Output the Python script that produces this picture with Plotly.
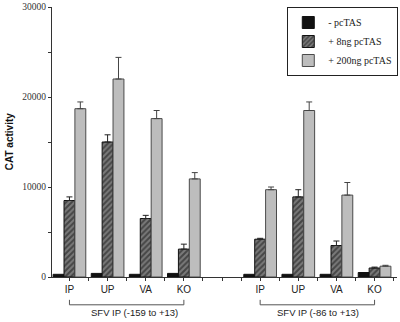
import plotly.graph_objects as go

positions = [1, 2, 3, 4, 6, 7, 8, 9]
categories = ["IP", "UP", "VA", "KO", "IP", "UP", "VA", "KO"]

series_names = ["- pcTAS", "+ 8ng pcTAS", "+ 200ng pcTAS"]
no_tas = [300, 400, 300, 400, 300, 300, 300, 500]
tas_8ng = [8500, 15000, 6500, 3100, 4200, 8900, 3500, 1000]
tas_8ng_err = [400, 800, 350, 550, 100, 800, 500, 100]
tas_200ng = [18700, 22000, 17600, 10900, 9700, 18500, 9100, 1200]
tas_200ng_err = [750, 2400, 900, 700, 300, 950, 1400, 100]

group_labels = ["SFV IP (-159 to +13)", "SFV IP (-86 to +13)"]
group_spans = [(1, 4), (6, 9)]
group_label_x = [2.70, 7.51]

y_tickvals = [0, 5000, 10000, 15000, 20000, 25000, 30000]
y_ticktext = ["0", "", "10000", "", "20000", "", "30000"]

fig = go.Figure()
fig.add_trace(go.Bar(
    x=positions, y=no_tas, name=series_names[0],
    marker=dict(color="#111111", line=dict(color="#111111", width=1)),
))
fig.add_trace(go.Bar(
    x=positions, y=tas_8ng, name=series_names[1],
    marker=dict(color="#333333", line=dict(color="#111111", width=1),
                pattern=dict(shape="/", fgcolor="#111111", bgcolor="#7a7a7a",
                             size=4, solidity=0.5)),
    error_y=dict(type="data", symmetric=False, array=tas_8ng_err,
                 arrayminus=[0] * len(tas_8ng_err), color="#222222",
                 thickness=1, width=3),
))
fig.add_trace(go.Bar(
    x=positions, y=tas_200ng, name=series_names[2],
    marker=dict(color="#bdbdbd", line=dict(color="#4a4a4a", width=1)),
    error_y=dict(type="data", symmetric=False, array=tas_200ng_err,
                 arrayminus=[0] * len(tas_200ng_err), color="#444444",
                 thickness=1, width=3),
))

half_ticks = [0.5 * k for k in range(1, 20)]
half_text = []
for v in half_ticks:
    if v in positions:
        half_text.append(categories[positions.index(v)])
    else:
        half_text.append("")

fig.update_layout(
    width=400, height=322,
    margin=dict(l=52, r=2, t=5, b=45),
    paper_bgcolor="white", plot_bgcolor="white",
    barmode="group", bargap=0.143, bargroupgap=0,
    showlegend=True,
    legend=dict(x=0.682, y=1, xanchor="left", yanchor="top",
                bordercolor="#222222", borderwidth=1, itemwidth=30,
                font=dict(family="Liberation Serif", size=10, color="#222222"),
                bgcolor="white", tracegroupgap=0),
    xaxis=dict(range=[0.5425, 9.588], tickmode="array", tickvals=half_ticks,
               ticktext=half_text, ticks="outside", ticklen=3, tickwidth=1,
               tickcolor="#333333", showline=True, linecolor="#333333",
               linewidth=1, showgrid=False, zeroline=False,
               tickfont=dict(family="Liberation Sans", size=10, color="#222222")),
    yaxis=dict(range=[0, 30000], tickmode="array", tickvals=y_tickvals,
               ticktext=y_ticktext, ticks="outside", ticklen=3, tickwidth=1,
               tickcolor="#333333", showline=True, linecolor="#333333",
               linewidth=1, showgrid=False, zeroline=False,
               tickfont=dict(family="Liberation Serif", size=9.5, color="#333333")),
)

fig.add_annotation(text="<b>CAT activity</b>", xref="paper", yref="paper",
                   x=-0.124, y=0.5, xanchor="center", yanchor="middle",
                   textangle=-90, showarrow=False,
                   font=dict(family="Liberation Sans", size=10, color="#111111"))

for (x0, x1), lbl, lx in zip(group_spans, group_labels, group_label_x):
    fig.add_shape(type="path", xref="x", yref="paper",
                  path=f"M {x0} -0.0846 L {x0} -0.103 L {x1} -0.103 L {x1} -0.0846",
                  line=dict(color="#555555", width=1))
    fig.add_annotation(text=lbl, xref="x", yref="paper", x=lx, y=-0.132,
                       xanchor="center", yanchor="middle", showarrow=False,
                       font=dict(family="Liberation Sans", size=9.5, color="#222222"))

fig.write_html("out.html", config={"displayModeBar": False},
               post_script="document.body.style.margin='0px';document.body.style.overflow='hidden';")
